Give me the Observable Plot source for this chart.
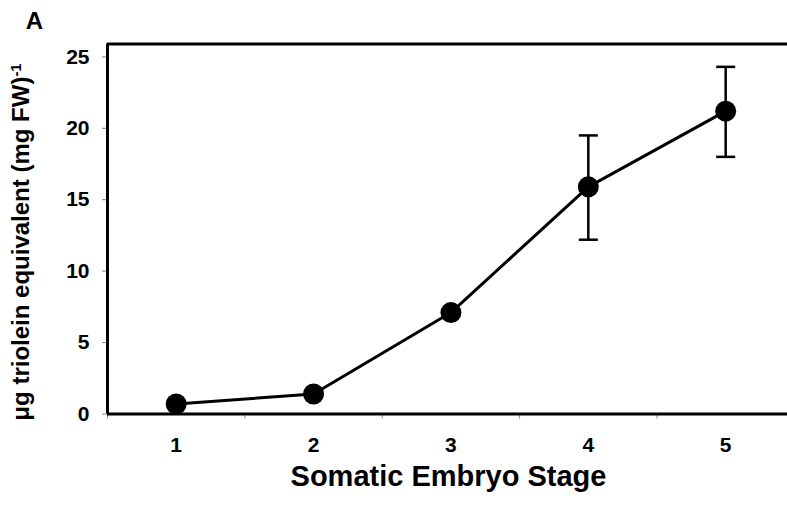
<!DOCTYPE html>
<html>
<head>
<meta charset="utf-8">
<script src="https://cdn.jsdelivr.net/npm/d3@7"></script>
<script src="https://cdn.jsdelivr.net/npm/@observablehq/plot@0.6"></script>
<style>
  html, body { margin: 0; padding: 0; background: #fff; }
  #chart { width: 787px; height: 505px; }
</style>
</head>
<body>
<div id="chart"></div>
<script>
// Data
const stages = [1, 2, 3, 4, 5];
const lipid = [0.7, 1.4, 7.1, 15.9, 21.2];
const errLow = [0.7, 1.4, 7.1, 12.2, 18.0];
const errHigh = [0.7, 1.4, 7.1, 19.5, 24.3];
const yTicks = [0, 5, 10, 15, 20, 25];
const xMinorTicks = [0.5, 1.5, 2.5, 3.5, 4.5];
const panelLabel = "A";
const xTitle = "Somatic Embryo Stage";
const yTitle = "μg triolein equivalent (mg FW)";
const yTitleSup = "-1";

const data = stages.map((s, i) => ({stage: s, value: lipid[i], lo: errLow[i], hi: errHigh[i]}));
const bars = data.filter(d => d.hi > d.lo);

// horizontal cap symbol for error bars
const cap = {
  draw(context, size) {
    const w = 9.5;
    context.moveTo(-w, 0);
    context.lineTo(w, 0);
  }
};

const font = "'Liberation Sans', Arial, Helvetica, sans-serif";

const chart = Plot.plot({
  width: 787,
  height: 505,
  marginLeft: 107,
  marginRight: 0,
  marginTop: 43.5,
  marginBottom: 91.5,
  style: {fontFamily: font, background: "#fff", color: "#000", overflow: "visible"},
  x: {domain: [0.5, 5.45], axis: null, label: null},
  y: {domain: [0, 25.9], axis: null, label: null},
  marks: [
    // y axis ticks & labels
    Plot.axisY({ticks: yTicks, label: null, tickSize: 5, tickPadding: 13, fontSize: 21, fontWeight: "bold", stroke: "#888", strokeWidth: 1, tickFormat: d => d}),
    // x tick labels
    Plot.axisX({ticks: stages, label: null, tickSize: 0, tickPadding: 23, fontSize: 21, fontWeight: "bold", tickFormat: d => d}),
    // x minor tick marks
    Plot.axisX({ticks: xMinorTicks, label: null, tickSize: 5, tickFormat: () => "", stroke: "#888", strokeWidth: 1}),
    // frame: left, top, bottom
    Plot.ruleX([0.5], {stroke: "#000", strokeWidth: 3}),
    Plot.ruleY([25.9], {stroke: "#000", strokeWidth: 3}),
    Plot.ruleY([0], {stroke: "#000", strokeWidth: 3}),
    // error bars
    Plot.ruleX(bars, {x: "stage", y1: "lo", y2: "hi", stroke: "#000", strokeWidth: 2.5}),
    Plot.dot(bars, {x: "stage", y: "hi", symbol: cap, stroke: "#000", strokeWidth: 2.5, r: 5}),
    Plot.dot(bars, {x: "stage", y: "lo", symbol: cap, stroke: "#000", strokeWidth: 2.5, r: 5}),
    // line and points
    Plot.line(data, {x: "stage", y: "value", stroke: "#000", strokeWidth: 3}),
    Plot.dot(data, {x: "stage", y: "value", r: 10.5, fill: "#000"}),
    // titles
    Plot.text([xTitle], {frameAnchor: "bottom", textAnchor: "middle", dx: 1, dy: 72, fontSize: 29, fontWeight: "bold", fill: "#000"}),
    Plot.text([yTitle], {frameAnchor: "left", textAnchor: "middle", dx: -86, dy: 13, rotate: -90, fontSize: 24, fontWeight: "bold", fill: "#000"}),
    Plot.text([panelLabel], {frameAnchor: "top-left", textAnchor: "middle", lineAnchor: "middle", dx: -73, dy: -23, fontSize: 24, fontWeight: "bold", fill: "#000"})
  ]
});

document.getElementById("chart").appendChild(chart);

// add superscript to the y title
d3.select(chart).selectAll("text").filter(function() { return this.textContent === yTitle; })
  .each(function() {
    d3.select(this).append("tspan").attr("dy", "-0.55em").attr("font-size", "0.62em").text(yTitleSup);
  });
</script>
</body>
</html>
